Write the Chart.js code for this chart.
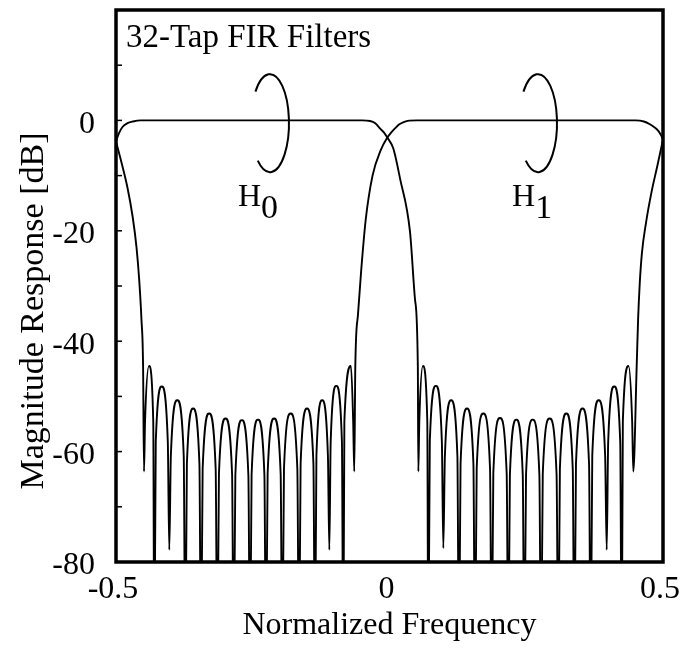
<!DOCTYPE html>
<html>
<head>
<meta charset="utf-8">
<script src="https://cdn.jsdelivr.net/npm/chart.js@4.4.1/dist/chart.umd.min.js"></script>
<style>
  html, body { margin: 0; padding: 0; background: #fff; }
  canvas { display: block; }
</style>
</head>
<body>
<canvas id="grafico" width="688" height="648"></canvas>
<script>
const tituloGrafico = '32-Tap FIR Filters';
const tituloX = 'Normalized Frequency';
const tituloY = 'Magnitude Response [dB]';

const xTicks = [-0.5, 0, 0.5];
const yTicks = [-80, -60, -40, -20, 0];
const yMarcas = [10, 0, -10, -20, -30, -40, -50, -60, -70];

// [frequencia normalizada, dB]; -100 = nulo abaixo do eixo
const h0Response = [
    [-0.5, -3.8], [-0.4945, -2.3], [-0.4878, -1.15], [-0.479, -0.5], [-0.469, -0.2], [-0.455, 0],
    [-0.05, 0], [-0.0356, -0.1], [-0.026, -0.5], [-0.0174, -1.45], [-0.01, -2.2], [-0.004, -3.1],
    [0.007, -5.1], [0.0192, -10.5], [0.0375, -20.2], [0.0466, -32.4], [0.0518, -44.5],
    [0.0527, -63.6], [0.0545, -54.5], [0.061, -44.5], [0.0691, -54.5],
    [0.0709, -100], [0.0737, -58.1], [0.0848, -48.1], [0.0957, -58.1],
    [0.0984, -77.5], [0.1013, -60.7], [0.1127, -50.7], [0.1241, -60.7],
    [0.127, -100], [0.1299, -62.2], [0.1417, -52.2], [0.1534, -62.2],
    [0.1563, -100], [0.1594, -63.1], [0.1716, -53.1], [0.1838, -63.1],
    [0.1868, -100], [0.1898, -63.9], [0.202, -53.9], [0.2142, -63.9],
    [0.2172, -100], [0.2201, -64.2], [0.2319, -54.2], [0.2436, -64.2],
    [0.2465, -100], [0.2496, -64.2], [0.2618, -54.2], [0.274, -64.2],
    [0.277, -100], [0.2802, -64], [0.2928, -54], [0.3054, -64],
    [0.3086, -100], [0.3115, -63.1], [0.3233, -53.1], [0.335, -63.1],
    [0.3379, -100], [0.3409, -62.2], [0.3529, -52.2], [0.3648, -62.2],
    [0.3678, -100], [0.3707, -60.7], [0.3825, -50.7], [0.3942, -60.7],
    [0.3971, -77.8], [0.3998, -58.2], [0.4108, -48.2], [0.4218, -58.2],
    [0.4245, -100], [0.4266, -54.5], [0.437, -44.5], [0.4436, -54.5],
    [0.4457, -63.6], [0.4519, -44.5], [0.4545, -36], [0.4575, -29.5], [0.4615, -24],
    [0.469, -18.5], [0.479, -13], [0.4895, -8.3], [0.5, -3.5]
];

const h1Response = [
    [-0.5, -3.8], [-0.4895, -7.8], [-0.479, -12.2], [-0.4695, -17.5], [-0.4625, -23],
    [-0.4575, -29], [-0.4535, -36], [-0.4505, -44.5],
    [-0.4488, -63.6], [-0.4469, -54.5], [-0.4397, -44.5], [-0.4319, -54.5],
    [-0.43, -100], [-0.4273, -58.2], [-0.4163, -48.2], [-0.4053, -58.2],
    [-0.4026, -77.8], [-0.3997, -60.7], [-0.388, -50.7], [-0.3762, -60.7],
    [-0.3733, -100], [-0.3704, -62.2], [-0.359, -52.2], [-0.3475, -62.2],
    [-0.3446, -100], [-0.3416, -63.1], [-0.3297, -53.1], [-0.3178, -63.1],
    [-0.3148, -100], [-0.3118, -64], [-0.2998, -54], [-0.2878, -64],
    [-0.2848, -100], [-0.2818, -64.3], [-0.2699, -54.3], [-0.258, -64.3],
    [-0.255, -100], [-0.2521, -64.2], [-0.2404, -54.2], [-0.2287, -64.2],
    [-0.2258, -100], [-0.2228, -64], [-0.2109, -54], [-0.199, -64],
    [-0.196, -100], [-0.1929, -63.1], [-0.1807, -53.1], [-0.1685, -63.1],
    [-0.1654, -100], [-0.1625, -62.2], [-0.1508, -52.2], [-0.1391, -62.2],
    [-0.1362, -100], [-0.1336, -60.7], [-0.1231, -50.7], [-0.1126, -60.7],
    [-0.11, -77.8], [-0.1075, -58.1], [-0.0973, -48.1], [-0.087, -58.1],
    [-0.0845, -100], [-0.0825, -54.5], [-0.0705, -44.5], [-0.0664, -54.5],
    [-0.0644, -63.6], [-0.0625, -44.5], [-0.0575, -35], [-0.052, -27.5], [-0.0435, -18],
    [-0.031, -10], [-0.016, -5.4], [-0.004, -3.1],
    [0.003, -2.2], [0.01, -1.45], [0.018, -0.7], [0.026, -0.3], [0.036, -0.05], [0.05, 0],
    [0.45, 0], [0.465, -0.2], [0.476, -0.7], [0.4835, -1.2], [0.4914, -1.9], [0.4965, -2.7], [0.5, -3.5]
];

const filtros = ['0', '1'];

const fonte = '"Liberation Serif", "Times New Roman", serif';

// moldura, marcas internas, titulo, rotulos H0/H1 e chaves
const decoracao = {
    id: 'decoracao',
    afterDatasetsDraw(chart) {
        const { ctx, chartArea: a, scales: { x, y } } = chart;
        ctx.save();
        ctx.strokeStyle = '#000';
        ctx.fillStyle = '#000';

        ctx.lineWidth = 1.5;
        yMarcas.forEach(v => {
            const py = y.getPixelForValue(v);
            ctx.beginPath();
            ctx.moveTo(a.left, py);
            ctx.lineTo(a.left + 6, py);
            ctx.stroke();
        });

        ctx.lineWidth = 3.5;
        ctx.strokeRect(a.left, a.top, a.right - a.left, a.bottom - a.top);

        ctx.font = '33px ' + fonte;
        ctx.textBaseline = 'alphabetic';
        ctx.textAlign = 'left';
        ctx.fillText(tituloGrafico, a.left + 10, a.top + 37);

        // chaves ")" em volta da faixa de passagem
        ctx.lineWidth = 2;
        [-0.2185, 0.2715].forEach(cx => {
            ctx.beginPath();
            ctx.ellipse(x.getPixelForValue(cx), y.getPixelForValue(-0.5), 19, 49, 0,
                -140 * Math.PI / 180, 130 * Math.PI / 180);
            ctx.stroke();
        });

        [-0.277, 0.224].forEach((lx, i) => {
            const px = x.getPixelForValue(lx);
            const py = y.getPixelForValue(-15.5);
            ctx.font = '32px ' + fonte;
            ctx.fillText('H', px, py);
            const w = ctx.measureText('H').width;
            ctx.font = '34px ' + fonte;
            ctx.fillText(filtros[i], px + w, py + 12);
        });

        ctx.font = '34px ' + fonte;
        ctx.translate(34, 311);
        ctx.rotate(-Math.PI / 2);
        ctx.textAlign = 'center';
        ctx.textBaseline = 'middle';
        ctx.fillText(tituloY, 0, 0);
        ctx.restore();
    }
};

const serie = (pts) => ({
    data: pts.map(([f, m]) => ({ x: f, y: m })),
    borderColor: '#000',
    borderWidth: 1.9,
    pointRadius: 0,
    fill: false,
    cubicInterpolationMode: 'monotone'
});

const ctx = document.getElementById('grafico').getContext('2d');
const myChart = new Chart(ctx, {
    type: 'line',
    data: { datasets: [serie(h0Response), serie(h1Response)] },
    options: {
        responsive: false,
        animation: false,
        layout: { padding: { top: 10, right: 25, left: 0, bottom: 0 } },
        elements: { line: { capBezierPoints: false } },
        plugins: { legend: { display: false }, tooltip: { enabled: false } },
        scales: {
            x: {
                type: 'linear', min: -0.5, max: 0.5,
                grid: { display: false, drawTicks: false },
                border: { display: false },
                afterBuildTicks: s => { s.ticks = xTicks.map(v => ({ value: v })); },
                afterFit: s => { s.height = 86; s.paddingLeft = 0; s.paddingRight = 0; },
                ticks: { color: '#000', padding: 8, maxRotation: 0, labelOffset: -3, font: { family: fonte, size: 32 }, callback: v => String(v) },
                title: { display: true, text: tituloX, color: '#000', font: { family: fonte, size: 32 }, padding: { top: 0, bottom: 3 } }
            },
            y: {
                min: -80, max: 20,
                grid: { display: false, drawTicks: false },
                border: { display: false },
                afterBuildTicks: s => { s.ticks = yTicks.map(v => ({ value: v })); },
                afterFit: s => { s.width = 116; s.paddingTop = 0; s.paddingBottom = 0; },
                ticks: { color: '#000', padding: 21, labelOffset: 4, font: { family: fonte, size: 32 }, callback: v => String(v) }
            }
        }
    },
    plugins: [decoracao]
});
</script>
</body>
</html>
